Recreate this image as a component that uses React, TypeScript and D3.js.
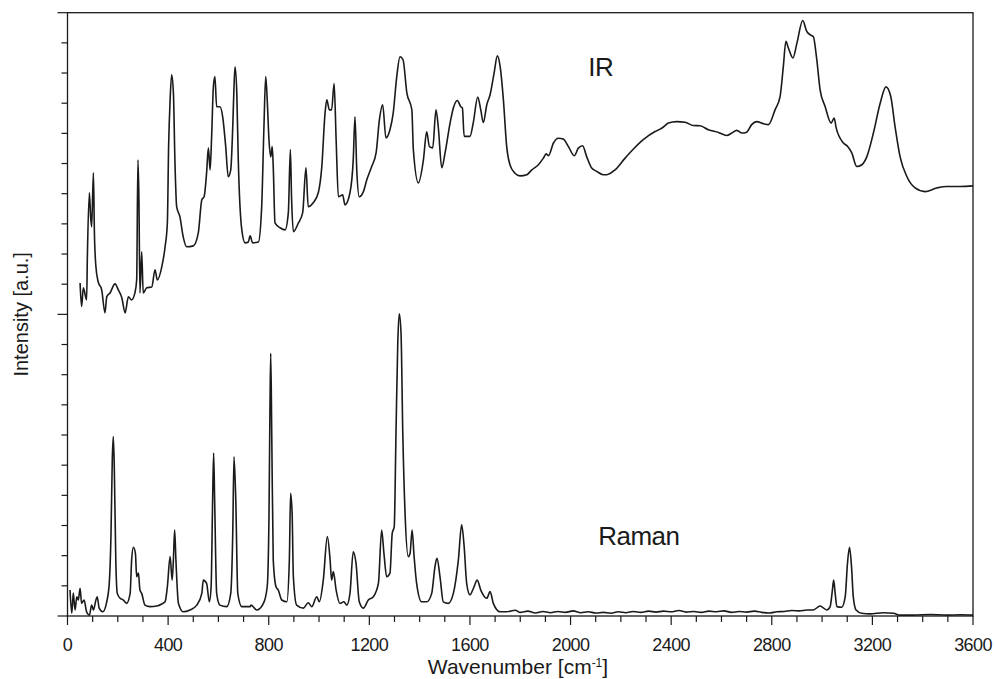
import React from 'react';
import * as d3 from 'd3';

// IR spectrum: [wavenumber cm-1, intensity a.u.]
const irSpectrum: [number, number][] = [
  [50, 11.04], [56, 10.26], [63, 10.88], [76, 10.48], [79, 11.92], [87, 14.03], [92, 13.23], [96, 12.9],
  [103, 14.69], [107, 12.7], [113, 11.58], [122, 11.08], [136, 10.81], [149, 10.05], [156, 10.58], [169, 10.71],
  [189, 11.01], [202, 10.81], [216, 10.55], [229, 10.05], [242, 10.58], [255, 10.48], [268, 10.71], [275, 11.14],
  [280, 15.12], [284, 13.8], [288, 10.71], [295, 12.07], [301, 10.71], [315, 10.88], [335, 10.91], [348, 11.48],
  [357, 11.14], [375, 11.58], [388, 12.24], [397, 13.03], [402, 15.56], [408, 17.11], [414, 17.94], [421, 17.35],
  [427, 15.12], [434, 13.57], [447, 13.23], [460, 12.57], [474, 12.24], [500, 12.27], [520, 12.7], [534, 13.8],
  [543, 13.9], [553, 14.69], [560, 15.52], [567, 14.79], [573, 15.89], [580, 17.55], [586, 17.88], [593, 16.88],
  [606, 16.88], [617, 16.55], [629, 15.56], [639, 14.56], [649, 14.79], [657, 16.22], [662, 17.55], [666, 18.21],
  [673, 17.35], [679, 15.12], [693, 12.8], [706, 12.37], [719, 12.4], [726, 12.6], [736, 12.37], [759, 12.4],
  [772, 13.57], [781, 16.22], [788, 17.88], [794, 17.11], [801, 15.79], [808, 15.22], [814, 15.56], [818, 14.89],
  [825, 13.03], [845, 12.87], [865, 12.8], [878, 13.37], [886, 15.46], [891, 13.8], [898, 12.74], [918, 13.03],
  [935, 13.37], [948, 14.86], [957, 13.57], [977, 13.7], [997, 14.03], [1011, 14.89], [1024, 16.68], [1031, 17.11],
  [1041, 16.78], [1050, 16.78], [1060, 17.65], [1068, 15.79], [1077, 13.9], [1094, 13.96], [1103, 13.63], [1123, 14.03],
  [1136, 15.12], [1143, 16.55], [1150, 14.79], [1160, 13.9], [1176, 14.06], [1190, 14.46], [1209, 14.89], [1227, 15.36],
  [1240, 16.45], [1253, 16.95], [1266, 15.85], [1282, 16.12], [1295, 16.68], [1309, 17.88], [1322, 18.54], [1334, 18.44],
  [1349, 17.35], [1369, 16.78], [1375, 15.46], [1395, 14.36], [1415, 15.12], [1428, 16.05], [1439, 15.56], [1452, 15.52],
  [1465, 16.78], [1474, 16.22], [1488, 14.86], [1501, 15.35], [1521, 16.34], [1534, 16.84], [1550, 17.09], [1563, 16.89],
  [1570, 16.84], [1577, 15.9], [1600, 15.9], [1613, 16.34], [1631, 17.2], [1643, 16.78], [1653, 16.36], [1667, 16.95],
  [1680, 17.28], [1696, 18.0], [1709, 18.57], [1720, 18.22], [1733, 17.11], [1746, 15.57], [1759, 14.96], [1779, 14.68],
  [1799, 14.59], [1826, 14.63], [1846, 14.79], [1872, 14.96], [1892, 15.18], [1903, 15.32], [1912, 15.26], [1932, 15.68],
  [1951, 15.84], [1971, 15.81], [1991, 15.57], [2015, 15.26], [2031, 15.51], [2048, 15.59], [2064, 15.23], [2084, 14.85],
  [2104, 14.74], [2130, 14.63], [2144, 14.63], [2177, 14.79], [2217, 15.18], [2250, 15.48], [2289, 15.79], [2336, 16.06],
  [2356, 16.14], [2369, 16.21], [2389, 16.34], [2422, 16.39], [2455, 16.37], [2488, 16.26], [2515, 16.25], [2548, 16.12],
  [2588, 16.03], [2621, 15.93], [2641, 16.01], [2661, 16.1], [2681, 16.01], [2700, 16.04], [2720, 16.29], [2740, 16.39],
  [2767, 16.32], [2787, 16.29], [2813, 16.78], [2833, 17.22], [2846, 18.22], [2856, 19.05], [2866, 18.83], [2884, 18.5],
  [2900, 18.99], [2923, 19.74], [2939, 19.38], [2952, 19.27], [2965, 19.21], [2979, 18.44], [2992, 17.45], [3012, 16.89],
  [3036, 16.34], [3048, 16.51], [3056, 16.18], [3085, 15.68], [3101, 15.57], [3118, 15.35], [3138, 14.9], [3158, 14.96],
  [3178, 15.23], [3204, 16.01], [3231, 17.0], [3254, 17.54], [3273, 17.22], [3290, 16.23], [3310, 15.23], [3337, 14.57],
  [3370, 14.19], [3409, 14.07], [3456, 14.19], [3496, 14.24], [3549, 14.24], [3600, 14.26],
];

// Raman spectrum: [wavenumber cm-1, intensity a.u.]
const ramanSpectrum: [number, number][] = [
  [10, 0.86], [17, 0.09], [23, 0.76], [30, 0.2], [37, 0.64], [43, 0.53], [50, 0.92], [56, 0.42],
  [66, 0.53], [76, 0.14], [87, 0.03], [96, 0.36], [103, 0.2], [113, 0.53], [118, 0.64], [126, 0.26],
  [140, 0.14], [156, 0.47], [166, 1.08], [173, 2.74], [178, 5.17], [182, 5.95], [186, 4.95], [192, 1.86],
  [198, 0.75], [209, 0.59], [222, 0.53], [235, 0.42], [249, 0.75], [255, 1.86], [262, 2.28], [270, 2.08],
  [275, 1.3], [282, 1.42], [288, 0.86], [295, 0.75], [308, 0.36], [328, 0.31], [355, 0.33], [375, 0.4],
  [388, 0.47], [397, 0.97], [408, 1.97], [416, 1.19], [421, 1.86], [426, 2.85], [431, 1.86], [441, 0.42],
  [460, 0.14], [487, 0.2], [514, 0.36], [534, 0.75], [540, 1.19], [553, 1.08], [564, 0.47], [571, 0.97],
  [577, 3.85], [581, 5.4], [585, 3.85], [593, 0.75], [606, 0.36], [633, 0.31], [649, 0.75], [657, 2.74],
  [662, 5.28], [669, 3.85], [677, 0.75], [693, 0.31], [726, 0.31], [730, 0.36], [752, 0.2], [779, 0.42],
  [794, 0.97], [801, 3.29], [805, 6.94], [808, 8.71], [812, 6.06], [818, 1.86], [829, 0.97], [838, 0.86],
  [852, 0.53], [872, 0.47], [882, 1.86], [887, 4.07], [893, 3.41], [898, 1.3], [911, 0.36], [938, 0.26],
  [957, 0.44], [971, 0.31], [991, 0.64], [1001, 0.47], [1017, 1.19], [1033, 2.63], [1044, 1.86], [1050, 1.19],
  [1057, 1.47], [1068, 0.86], [1083, 0.42], [1099, 0.47], [1110, 0.36], [1123, 0.75], [1136, 2.13], [1147, 1.75],
  [1160, 0.47], [1176, 0.26], [1196, 0.53], [1216, 0.64], [1236, 1.08], [1249, 2.85], [1258, 2.08], [1269, 1.3],
  [1282, 1.42], [1291, 2.74], [1299, 2.96], [1306, 6.06], [1313, 9.04], [1319, 10.02], [1326, 9.38], [1333, 6.06],
  [1342, 3.41], [1355, 1.97], [1362, 2.08], [1370, 2.85], [1378, 1.97], [1388, 1.08], [1408, 0.47], [1428, 0.47],
  [1448, 0.75], [1461, 1.64], [1469, 1.91], [1481, 1.3], [1494, 0.47], [1514, 0.42], [1534, 0.75], [1554, 1.86],
  [1567, 3.02], [1577, 2.3], [1587, 1.08], [1600, 0.7], [1614, 0.92], [1629, 1.19], [1643, 0.86], [1667, 0.59],
  [1680, 0.81], [1693, 0.42], [1720, 0.14], [1746, 0.14], [1780, 0.19], [1800, 0.12], [1830, 0.16], [1860, 0.1],
  [1890, 0.15], [1920, 0.11], [1950, 0.15], [1980, 0.12], [2010, 0.17], [2040, 0.11], [2070, 0.14], [2100, 0.1],
  [2130, 0.12], [2160, 0.09], [2190, 0.14], [2220, 0.11], [2250, 0.15], [2280, 0.12], [2310, 0.16], [2340, 0.13],
  [2370, 0.16], [2400, 0.14], [2430, 0.18], [2460, 0.13], [2490, 0.15], [2520, 0.12], [2550, 0.16], [2580, 0.14],
  [2610, 0.17], [2640, 0.12], [2670, 0.15], [2700, 0.13], [2730, 0.16], [2760, 0.12], [2790, 0.1], [2820, 0.14],
  [2850, 0.15], [2880, 0.18], [2910, 0.17], [2940, 0.2], [2965, 0.2], [2992, 0.33], [3019, 0.2], [3032, 0.31],
  [3041, 0.86], [3046, 1.19], [3052, 0.75], [3059, 0.31], [3078, 0.29], [3092, 0.64], [3101, 1.75], [3109, 2.28],
  [3117, 1.64], [3124, 0.64], [3135, 0.2], [3158, 0.09], [3191, 0.07], [3244, 0.11], [3284, 0.09], [3310, 0.03],
  [3363, 0.03], [3430, 0.05], [3496, 0.03], [3550, 0.04], [3600, 0.03],
];

const xTickValues = d3.range(0, 3601, 100);
const xLabelValues = [0, 400, 800, 1200, 1600, 2000, 2400, 2800, 3200, 3600];
const yTickValues = d3.range(0, 21, 1);
const seriesLabels = [
  { text: 'IR', wn: 2070, v: 17.9 },
  { text: 'Raman', wn: 2110, v: 2.35 },
];

const FONT = '"Liberation Sans", Arial, Helvetica, sans-serif';
const INK = '#1a1a1a';

export default function App() {
  const W = 995;
  const H = 679;
  const left = 67.5;
  const right = 973;
  const top = 12.7;
  const bottom = 616;

  const x = d3.scaleLinear().domain([0, 3600]).range([left, right]);
  const y = d3.scaleLinear().domain([0, 20]).range([bottom, top]);
  const line = d3
    .line<[number, number]>()
    .x((d) => x(d[0]))
    .y((d) => y(d[1]))
    .curve(d3.curveMonotoneX);

  return (
    <svg
      width={W}
      height={H}
      viewBox={`0 0 ${W} ${H}`}
      style={{ position: 'absolute', left: 0, top: 0, background: '#fff' }}
      fontFamily={FONT}
    >
      <rect x={0} y={0} width={W} height={H} fill="#fff" />
      {/* spectra */}
      <path d={line(irSpectrum) || ''} fill="none" stroke={INK} strokeWidth={1.6} strokeLinejoin="round" />
      <path d={line(ramanSpectrum) || ''} fill="none" stroke={INK} strokeWidth={1.6} strokeLinejoin="round" />

      {/* frame */}
      <rect x={left} y={top} width={right - left} height={bottom - top} fill="none" stroke={INK} strokeWidth={1.3} />

      {/* x ticks */}
      {xTickValues.map((t) => {
        const major = t % 400 === 0;
        return (
          <line key={`xt${t}`} x1={x(t)} x2={x(t)} y1={bottom} y2={bottom + (major ? 9 : 6)} stroke={INK} strokeWidth={1.2} />
        );
      })}
      {xLabelValues.map((t) => (
        <text key={`xl${t}`} x={x(t)} y={651} fontSize={18} textAnchor="middle" fill={INK} letterSpacing={-0.6}>
          {String(t)}
        </text>
      ))}

      {/* y ticks */}
      {yTickValues.map((t) => {
        const major = t % 10 === 0;
        return (
          <line key={`yt${t}`} x1={left - (major ? 10 : 6)} x2={left} y1={y(t)} y2={y(t)} stroke={INK} strokeWidth={1.2} />
        );
      })}

      {/* axis titles */}
      <text x={518} y={674} fontSize={21} textAnchor="middle" fill={INK}>
        Wavenumber [cm
        <tspan fontSize={12} dy={-7}>-1</tspan>
        <tspan dy={7}>]</tspan>
      </text>
      <text
        transform={`translate(28, ${(top + bottom) / 2}) rotate(-90)`}
        fontSize={20}
        textAnchor="middle"
        fill={INK}
      >
        Intensity [a.u.]
      </text>

      {/* series labels */}
      {seriesLabels.map((s) => (
        <text key={s.text} x={x(s.wn)} y={y(s.v)} fontSize={26} fill={INK} letterSpacing={-0.5}>
          {s.text}
        </text>
      ))}
    </svg>
  );
}
